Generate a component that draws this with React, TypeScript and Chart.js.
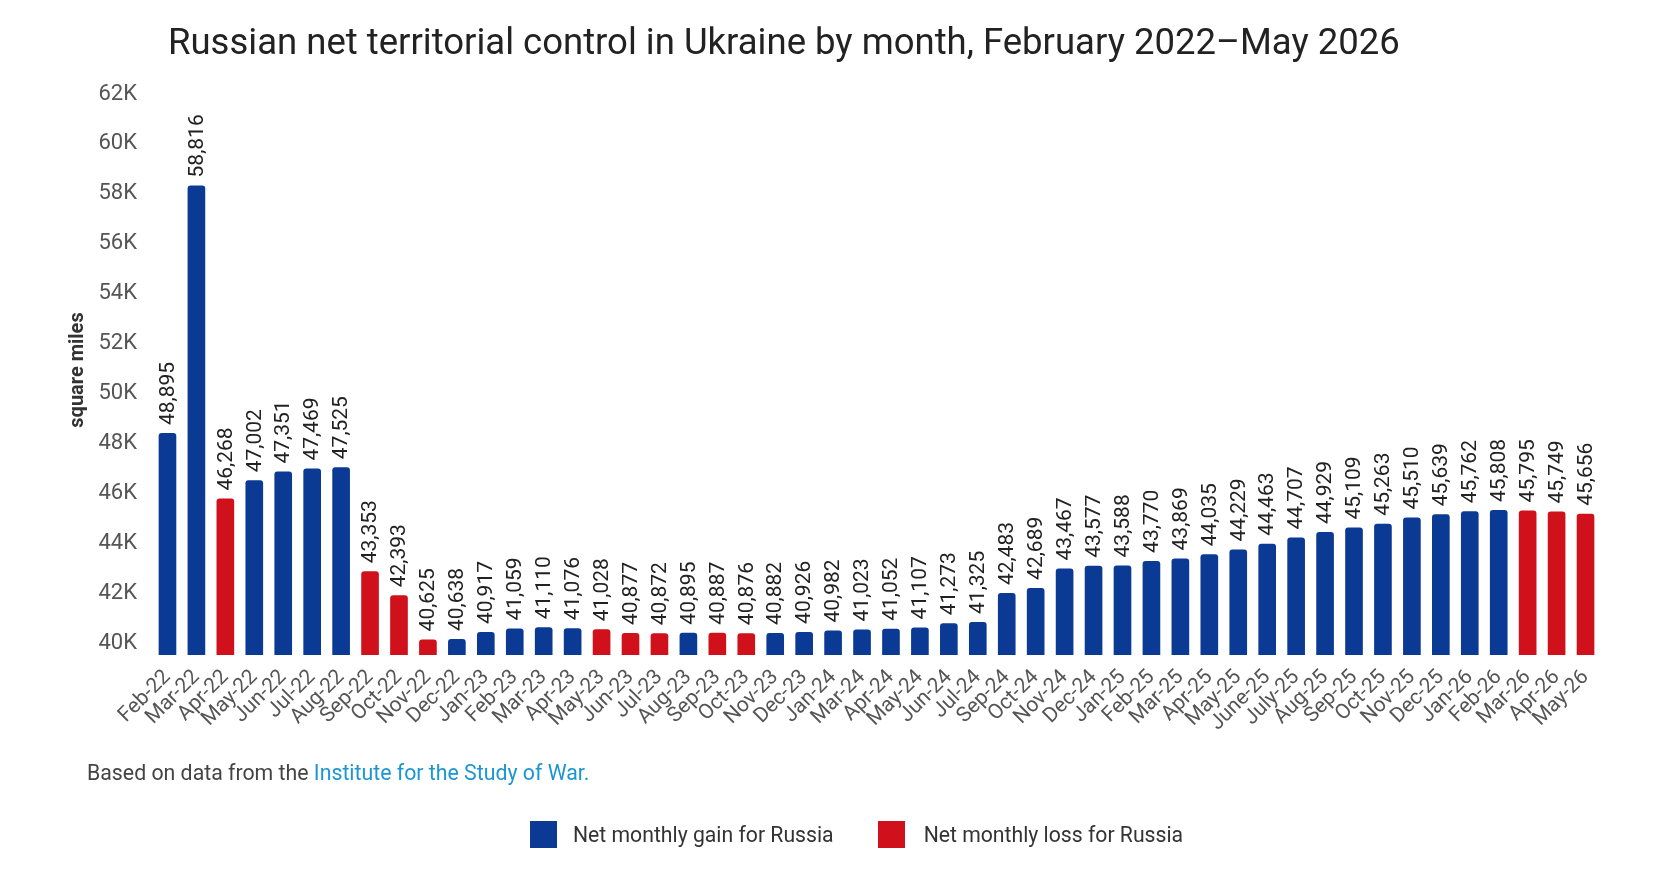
import { useEffect, useRef } from "react";
import Chart from "chart.js/auto";

const months = [
  "Feb-22", "Mar-22", "Apr-22", "May-22", "Jun-22", "Jul-22", "Aug-22", "Sep-22", "Oct-22", "Nov-22", "Dec-22",
  "Jan-23", "Feb-23", "Mar-23", "Apr-23", "May-23", "Jun-23", "Jul-23", "Aug-23", "Sep-23", "Oct-23", "Nov-23", "Dec-23",
  "Jan-24", "Mar-24", "Apr-24", "May-24", "Jun-24", "Jul-24", "Sep-24", "Oct-24", "Nov-24", "Dec-24",
  "Jan-25", "Feb-25", "Mar-25", "Apr-25", "May-25", "June-25", "July-25", "Aug-25", "Sep-25", "Oct-25", "Nov-25", "Dec-25",
  "Jan-26", "Feb-26", "Mar-26", "Apr-26", "May-26",
];

const areaSqMi = [
  48895, 58816, 46268, 47002, 47351, 47469, 47525, 43353, 42393, 40625, 40638,
  40917, 41059, 41110, 41076, 41028, 40877, 40872, 40895, 40887, 40876, 40882, 40926,
  40982, 41023, 41052, 41107, 41273, 41325, 42483, 42689, 43467, 43577,
  43588, 43770, 43869, 44035, 44229, 44463, 44707, 44929, 45109, 45263, 45510, 45639,
  45762, 45808, 45795, 45749, 45656,
];

// months shown in red (net loss for Russia)
const lossMonths = [
  "Apr-22", "Sep-22", "Oct-22", "Nov-22", "May-23", "Jun-23", "Jul-23", "Sep-23", "Oct-23",
  "Mar-26", "Apr-26", "May-26",
];

const yMin = 40000;
const yMax = 62000;
const yStep = 2000;

const GAIN = "#0a3a94";
const LOSS = "#d0101a";
const FONT = "Roboto, 'Noto Sans', sans-serif";

const valueLabels = {
  id: "valueLabels",
  afterDatasetsDraw(chart: Chart) {
    const ctx = chart.ctx;
    const meta = chart.getDatasetMeta(0);
    ctx.save();
    ctx.font = `21px ${FONT}`;
    ctx.fillStyle = "#222";
    ctx.textAlign = "left";
    ctx.textBaseline = "middle";
    meta.data.forEach((bar: any, i: number) => {
      ctx.save();
      ctx.translate(bar.x, bar.y - 8);
      ctx.rotate(-Math.PI / 2);
      ctx.fillText(areaSqMi[i].toLocaleString("en-US"), 0, 1);
      ctx.restore();
    });
    ctx.restore();

    // y axis title, placed a little above the plot's middle like the original
    ctx.save();
    ctx.font = `bold 20px ${FONT}`;
    ctx.fillStyle = "#333";
    ctx.textAlign = "center";
    ctx.textBaseline = "middle";
    ctx.translate(78, 370);
    ctx.rotate(-Math.PI / 2);
    ctx.fillText("square miles", 0, 0);
    ctx.restore();
  },
};

export default function App() {
  const canvasRef = useRef<HTMLCanvasElement | null>(null);

  useEffect(() => {
    document.body.style.margin = "0";
    if (!canvasRef.current) return;
    const ctx = canvasRef.current.getContext("2d");
    if (!ctx) return;

    const chart = new Chart(ctx, {
      type: "bar",
      data: {
        labels: months,
        datasets: [
          {
            data: areaSqMi,
            backgroundColor: months.map((m) => (lossMonths.includes(m) ? LOSS : GAIN)),
            borderRadius: { topLeft: 3, topRight: 3, bottomLeft: 0, bottomRight: 0 },
            borderSkipped: false,
            categoryPercentage: 1,
            barPercentage: 0.61,
          },
        ],
      },
      options: {
        responsive: false,
        animation: false,
        layout: { padding: { left: 0, right: 72, top: 106, bottom: 137 } },
        plugins: {
          legend: { display: false },
          tooltip: { enabled: false },
        },
        scales: {
          x: {
            grid: { display: false, drawTicks: false },
            border: { display: false },
            ticks: {
              autoSkip: false,
              maxRotation: 45,
              minRotation: 45,
              padding: 10,
              color: "#555",
              font: { family: FONT, size: 21 },
            },
            afterFit: (s: any) => {
              s.height = 80;
            },
          },
          y: {
            min: yMin,
            max: yMax,
            grid: { display: false, drawTicks: false },
            border: { display: false },
            ticks: {
              stepSize: yStep,
              padding: 16,
              labelOffset: -12,
              color: "#555",
              font: { family: FONT, size: 22 },
              callback: (v: any) => `${Number(v) / 1000}K`,
            },
            afterFit: (s: any) => {
              s.width = 153;
            },
          },
        },
      },
      plugins: [valueLabels],
    });

    return () => chart.destroy();
  }, []);

  return (
    <div style={{ position: "relative", width: 1672, height: 872, fontFamily: FONT, background: "#fff" }}>
      <canvas ref={canvasRef} width={1672} height={872} style={{ position: "absolute", left: 0, top: 0 }} />
      <div
        style={{
          position: "absolute",
          left: 168,
          top: 23,
          fontSize: 36.5,
          lineHeight: "38px",
          color: "#222",
          whiteSpace: "nowrap",
        }}
      >
        Russian net territorial control in Ukraine by month, February 2022–May 2026
      </div>
      <div
        style={{
          position: "absolute",
          left: 87,
          top: 760,
          fontSize: 21.3,
          lineHeight: "26px",
          color: "#444",
          whiteSpace: "nowrap",
        }}
      >
        Based on data from the <span style={{ color: "#1b95d4" }}>Institute for the Study of War.</span>
      </div>
      <div
        style={{
          position: "absolute",
          left: 530,
          top: 821,
          display: "flex",
          alignItems: "center",
          fontSize: 21.2,
          color: "#333",
          whiteSpace: "nowrap",
        }}
      >
        <span style={{ width: 27, height: 27, background: GAIN, display: "inline-block", marginRight: 16 }} />
        <span style={{ marginRight: 44 }}>Net monthly gain for Russia</span>
        <span style={{ width: 27, height: 27, background: LOSS, display: "inline-block", marginRight: 19 }} />
        <span>Net monthly loss for Russia</span>
      </div>
    </div>
  );
}
